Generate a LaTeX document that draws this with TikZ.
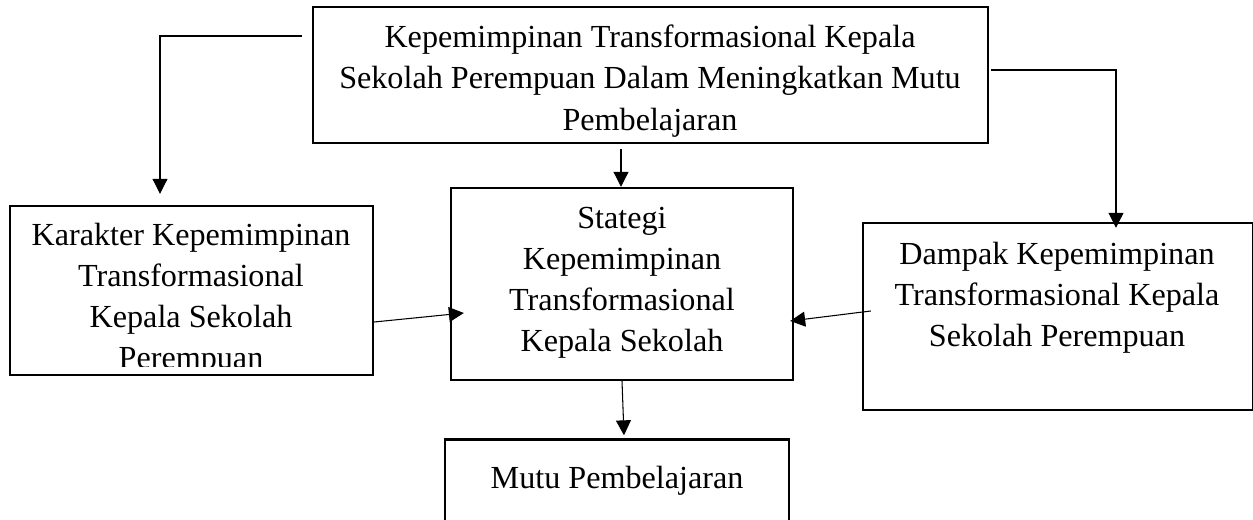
\documentclass[tikz,border=0pt]{standalone}
\usepackage{fontspec}
\setmainfont{Liberation Serif}
\usetikzlibrary{arrows.meta}

\tikzset{
	box/.style={draw, line width=1.4pt, rectangle, inner sep=0pt},
	txt/.style={align=center, inner sep=0pt, font=\fontsize{18.3}{23.4}\selectfont},
	arr/.style={line width=0.6pt, -{Triangle[length=8.5pt, width=8.5pt]}}
}

\begin{document}
\begin{tikzpicture}[x=0.02cm, y=-0.02cm]
	\useasboundingbox (0,0) rectangle (1253,520);
	
	\node[box, minimum width=13.5cm, minimum height=2.72cm] (kepemimpinan) at (650.5,75) {};
	\node[box, minimum width=7.26cm, minimum height=3.38cm] (karakter) at (191.5,290.5) {};
	\node[box, minimum width=6.84cm, minimum height=3.84cm] (strategi) at (622,284) {};
	\node[box, minimum width=7.8cm, minimum height=3.74cm] (dampak) at (1058,316.5) {};
	\node[box, minimum width=6.88cm, minimum height=1.7cm] (mutu) at (617,482) {};
	
	\node[txt] (kepemimpinantxt) at (650,81) {Kepemimpinan Transformasional Kepala\\ Sekolah Perempuan Dalam Meningkatkan Mutu\\ Pembelajaran};
	\begin{scope}
		\clip (10,206) rectangle (373,366);
		\node[txt] (karaktertxt) at (191,299) {Karakter Kepemimpinan\\ Transformasional\\ Kepala Sekolah\\ Perempuan};
	\end{scope}
	\node[txt] (strategitxt) at (622,283) {Stategi\\ Kepemimpinan\\ Transformasional\\ Kepala Sekolah};
	\node[txt] (dampaktxt) at (1057,298) {Dampak Kepemimpinan\\ Transformasional Kepala\\ Sekolah Perempuan};
	\node[txt] (mututxt) at (617,481) {Mutu Pembelajaran};
	
	\draw[arr] ([shift={(-10,-39)}]kepemimpinan.west) -| ([shift={(-31.5,-11)}]karakter.north);
	\draw[arr] ([shift={(2,-5)}]kepemimpinan.east) -| ([shift={(58,6)}]dampak.north);
	\draw[arr] ([shift={(-29.5,5)}]kepemimpinan.south) -- ([shift={(-1,0)}]strategi.north);
	\draw[arr] ([shift={(0,31.5)}]karakter.east) -- ([shift={(14,29)}]strategi.west);
	\draw[arr] ([shift={(9,-5.5)}]dampak.west) -- ([shift={(-4,37)}]strategi.east);
	\draw[arr] (strategi.south) -- ([shift={(7,-3)}]mutu.north);
\end{tikzpicture}
\end{document}
